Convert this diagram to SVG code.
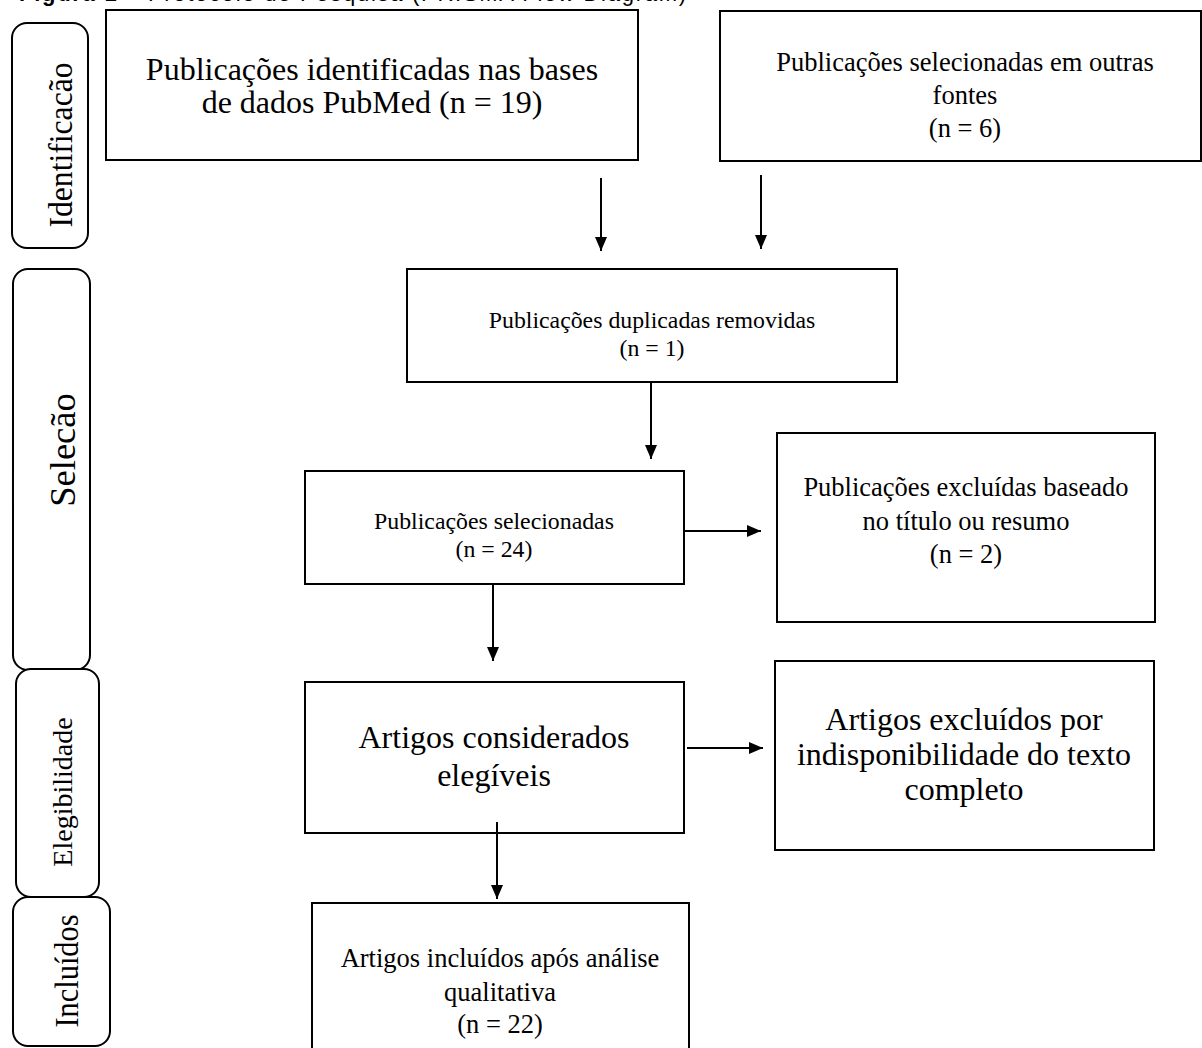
<svg xmlns="http://www.w3.org/2000/svg" width="1202" height="1048" viewBox="0 0 1202 1048">
<defs>
<style>
.box{fill:#fff;stroke:#000;stroke-width:2}
.stage{fill:#fff;stroke:#000;stroke-width:2}
.t{font-family:"Liberation Serif","Times New Roman",serif;fill:#000;text-anchor:middle}
.cap{font-family:"Liberation Sans",Arial,sans-serif;fill:#000;font-size:22px}
.ln{stroke:#000;stroke-width:2;fill:none}
</style>
<marker id="a" viewBox="0 0 14 14" refX="14" refY="7" markerWidth="14" markerHeight="14" markerUnits="userSpaceOnUse" orient="auto">
<path d="M0,1 L14,7 L0,13 z" fill="#000"/>
</marker>
</defs>
<rect width="1202" height="1048" fill="#fff"/>
<text class="cap" x="19" y="1" textLength="667" lengthAdjust="spacing"><tspan font-weight="bold">Figura 1</tspan> – Protocolo de Pesquisa (PRISMA Flow Diagram)</text>

<g id="stage-identificacao">
<rect class="stage" x="12" y="23" width="76" height="225" rx="15"/>
<text class="t" font-size="33" transform="translate(72,145) rotate(-90)" textLength="165" lengthAdjust="spacingAndGlyphs">Identificacão</text>
</g>
<g id="stage-selecao">
<rect class="stage" x="13" y="269" width="77" height="401" rx="15"/>
<text class="t" font-size="36.5" transform="translate(75,450) rotate(-90)">Selecão</text>
</g>
<g id="stage-elegibilidade">
<rect class="stage" x="16" y="669" width="83" height="228" rx="15"/>
<text class="t" font-size="28" transform="translate(72,792) rotate(-90)">Elegibilidade</text>
</g>
<g id="stage-incluidos">
<rect class="stage" x="13" y="897" width="97" height="149" rx="15"/>
<text class="t" font-size="34" transform="translate(78,971) rotate(-90)" textLength="113" lengthAdjust="spacingAndGlyphs">Incluídos</text>
</g>

<g id="node-pubmed">
<rect class="box" x="106" y="10" width="532" height="150"/>
<text class="t" font-size="32" x="372" y="80">Publicações identificadas nas bases</text>
<text class="t" font-size="32" x="372" y="113">de dados PubMed (n = 19)</text>
</g>
<g id="node-outras">
<rect class="box" x="720" y="11" width="481" height="150"/>
<text class="t" font-size="26.5" x="965" y="71">Publicações selecionadas em outras</text>
<text class="t" font-size="26.5" x="965" y="104">fontes</text>
<text class="t" font-size="26.5" x="965" y="137">(n = 6)</text>
</g>
<g id="node-duplicadas">
<rect class="box" x="407" y="269" width="490" height="113"/>
<text class="t" font-size="23.8" x="652" y="328">Publicações duplicadas removidas</text>
<text class="t" font-size="23.8" x="652" y="356">(n = 1)</text>
</g>
<g id="node-selecionadas">
<rect class="box" x="305" y="471" width="379" height="113"/>
<text class="t" font-size="23.8" x="494" y="529">Publicações selecionadas</text>
<text class="t" font-size="23.8" x="494" y="557">(n = 24)</text>
</g>
<g id="node-excluidas-titulo">
<rect class="box" x="777" y="433" width="378" height="189"/>
<text class="t" font-size="26.5" x="966" y="496">Publicações excluídas baseado</text>
<text class="t" font-size="26.5" x="966" y="530">no título ou resumo</text>
<text class="t" font-size="26.5" x="966" y="563">(n = 2)</text>
</g>
<g id="node-elegiveis">
<rect class="box" x="305" y="682" width="379" height="151"/>
<text class="t" font-size="32" x="494" y="748">Artigos considerados</text>
<text class="t" font-size="32" x="494" y="786">elegíveis</text>
</g>
<g id="node-excluidos-texto">
<rect class="box" x="775" y="661" width="379" height="189"/>
<text class="t" font-size="32" x="964" y="730">Artigos excluídos por</text>
<text class="t" font-size="32" x="964" y="765">indisponibilidade do texto</text>
<text class="t" font-size="32" x="964" y="800">completo</text>
</g>
<g id="node-incluidos">
<rect class="box" x="312" y="903" width="377" height="150"/>
<text class="t" font-size="26.5" x="500" y="967">Artigos incluídos após análise</text>
<text class="t" font-size="26.5" x="500" y="1001">qualitativa</text>
<text class="t" font-size="26.5" x="500" y="1033">(n = 22)</text>
</g>

<g id="connectors">
<line class="ln" x1="601" y1="178" x2="601" y2="251" marker-end="url(#a)"/>
<line class="ln" x1="761" y1="175" x2="761" y2="249" marker-end="url(#a)"/>
<line class="ln" x1="651" y1="382" x2="651" y2="459" marker-end="url(#a)"/>
<line class="ln" x1="684" y1="531" x2="761" y2="531" marker-end="url(#a)"/>
<line class="ln" x1="493" y1="584" x2="493" y2="661" marker-end="url(#a)"/>
<line class="ln" x1="687" y1="748" x2="763" y2="748" marker-end="url(#a)"/>
<line class="ln" x1="497" y1="822" x2="497" y2="899" marker-end="url(#a)"/>
</g>
</svg>
